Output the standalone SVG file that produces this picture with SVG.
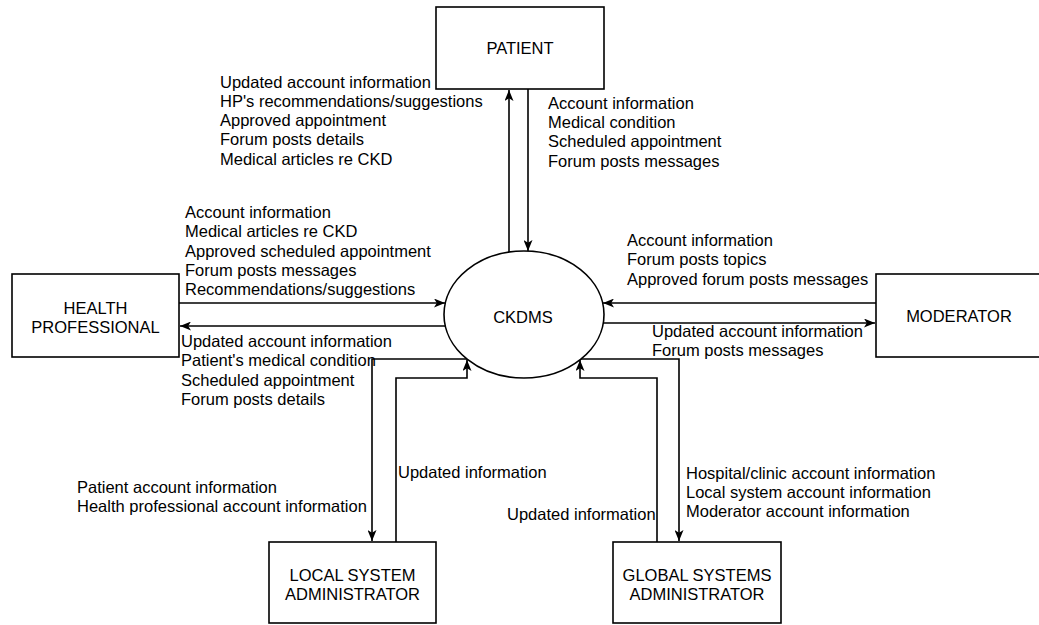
<svg xmlns="http://www.w3.org/2000/svg" width="1039" height="625" viewBox="0 0 1039 625">
<style>
.box{fill:#fff;stroke:#000;stroke-width:1.6}
.ln{fill:none;stroke:#000;stroke-width:1.6}
text{font-family:"Liberation Sans",Arial,sans-serif;font-size:16.5px;fill:#000}
.c{text-anchor:middle}
</style>
<defs>
<marker id="arr" viewBox="0 0 11 9" refX="11" refY="4.5" markerWidth="11" markerHeight="9" markerUnits="userSpaceOnUse" orient="auto">
<path d="M0,0 L11,4.5 L0,9 L2.8,4.5 Z" fill="#000"/>
</marker>
</defs>
<rect width="1039" height="625" fill="#fff"/>
<g id="connectors">
<path class="ln" d="M509,252 V90" marker-end="url(#arr)"/>
<path class="ln" d="M528,89 V251" marker-end="url(#arr)"/>
<path class="ln" d="M179,303 H445" marker-end="url(#arr)"/>
<path class="ln" d="M445,326 H180" marker-end="url(#arr)"/>
<path class="ln" d="M876,303 H603" marker-end="url(#arr)"/>
<path class="ln" d="M603,323 H875" marker-end="url(#arr)"/>
<path class="ln" d="M467,359 H372 V541" marker-end="url(#arr)"/>
<path class="ln" d="M396,542 V378 H467 V360" marker-end="url(#arr)"/>
<path class="ln" d="M581,359 H679 V541" marker-end="url(#arr)"/>
<path class="ln" d="M657,542 V378 H580 V360" marker-end="url(#arr)"/>
</g>
<g id="labels">
<text x="220" y="87.5"><tspan x="220">Updated account information</tspan><tspan x="220" dy="19.3">HP's recommendations/suggestions</tspan><tspan x="220" dy="19.3">Approved appointment</tspan><tspan x="220" dy="19.3">Forum posts details</tspan><tspan x="220" dy="19.3">Medical articles re CKD</tspan></text>
<text x="548" y="109"><tspan x="548">Account information</tspan><tspan x="548" dy="19.2">Medical condition</tspan><tspan x="548" dy="19.2">Scheduled appointment</tspan><tspan x="548" dy="19.2">Forum posts messages</tspan></text>
<text x="185" y="218.2"><tspan x="185">Account information</tspan><tspan x="185" dy="19.2">Medical articles re CKD</tspan><tspan x="185" dy="19.2">Approved scheduled appointment</tspan><tspan x="185" dy="19.2">Forum posts messages</tspan><tspan x="185" dy="19.2">Recommendations/suggestions</tspan></text>
<text x="181" y="347.2"><tspan x="181">Updated account information</tspan><tspan x="181" dy="19.2">Patient's medical condition</tspan><tspan x="181" dy="19.2">Scheduled appointment</tspan><tspan x="181" dy="19.2">Forum posts details</tspan></text>
<text x="627" y="245.5"><tspan x="627">Account information</tspan><tspan x="627" dy="19.5">Forum posts topics</tspan><tspan x="627" dy="19.5">Approved forum posts messages</tspan></text>
<text x="652" y="337"><tspan x="652">Updated account information</tspan><tspan x="652" dy="19">Forum posts messages</tspan></text>
<text x="77" y="492.5"><tspan x="77">Patient account information</tspan><tspan x="77" dy="19">Health professional account information</tspan></text>
<text x="398" y="477.5">Updated information</text>
<text x="507" y="519.5">Updated information</text>
<text x="686" y="478.5"><tspan x="686">Hospital/clinic account information</tspan><tspan x="686" dy="19">Local system account information</tspan><tspan x="686" dy="19">Moderator account information</tspan></text>
</g>
<g id="patient">
<rect class="box" x="436" y="7" width="168" height="82"/>
<text class="c" x="520" y="54">PATIENT</text>
</g>
<g id="ckdms">
<ellipse class="box" cx="524" cy="314.5" rx="80" ry="63.5"/>
<text class="c" x="523" y="322.5">CKDMS</text>
</g>
<g id="health-professional">
<rect class="box" x="12" y="274" width="167" height="83"/>
<text class="c" x="95.5" y="313.5">HEALTH</text>
<text class="c" x="95.5" y="332.5">PROFESSIONAL</text>
</g>
<g id="moderator">
<rect class="box" x="876" y="274" width="167" height="83"/>
<text class="c" x="959" y="322">MODERATOR</text>
</g>
<g id="local-admin">
<rect class="box" x="269" y="542" width="167" height="81"/>
<text class="c" x="352.5" y="581">LOCAL SYSTEM</text>
<text class="c" x="352.5" y="600">ADMINISTRATOR</text>
</g>
<g id="global-admin">
<rect class="box" x="613" y="542" width="168" height="81"/>
<text class="c" x="697" y="581">GLOBAL SYSTEMS</text>
<text class="c" x="697" y="600">ADMINISTRATOR</text>
</g>
</svg>
